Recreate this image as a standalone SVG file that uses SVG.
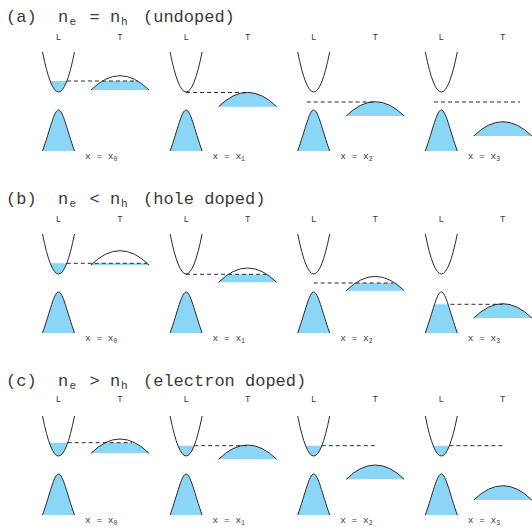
<svg xmlns="http://www.w3.org/2000/svg" width="532" height="527" viewBox="0 0 532 527">
<style>
.bg{fill:#ffffff}
.ln{fill:none;stroke:#2a2a2a;stroke-width:1}
.bl{fill:#8bd6f6;stroke:none}
.dh{fill:none;stroke:#2a2a2a;stroke-width:1;stroke-dasharray:4 3}
.tt{font-family:"Liberation Mono","Courier New",monospace;font-size:17px;fill:#3a3a3a}
.sb{font-size:11px}
.lb{font-family:"Liberation Mono","Courier New",monospace;font-size:9px;fill:#3a3a3a;text-anchor:middle}
.xl{font-family:"Liberation Mono","Courier New",monospace;font-size:9.5px;fill:#3a3a3a}
.xs{font-size:6.5px}
</style>
<defs>
<path id="vb" d="M-16,151 C-8.5,130 -4.5,110 0,110 C4.5,110 8.5,130 16,151"/>
<clipPath id="cA0"><rect x="80" y="81" width="80" height="20"/></clipPath>
<clipPath id="cB0"><rect x="80" y="81.3" width="80" height="20"/></clipPath>
<clipPath id="cB1"><rect x="210" y="92.3" width="80" height="20"/></clipPath>
<clipPath id="cB2"><rect x="340" y="101" width="80" height="20"/></clipPath>
<clipPath id="cB3"><rect x="-20" y="122.3" width="40" height="40"/></clipPath>
<clipPath id="cC0"><rect x="80" y="78.7" width="80" height="20"/></clipPath>
<clipPath id="cC1"><rect x="210" y="81.7" width="80" height="20"/></clipPath>
</defs>
<rect class="bg" x="0" y="0" width="532" height="527"/>

<!-- Panel (a) -->
<g id="panel-a">
<text class="tt" y="22"><tspan x="6">(a)</tspan><tspan x="58">n</tspan><tspan class="sb" x="69.5" dy="3">e</tspan><tspan x="89.5" dy="-3">=</tspan><tspan x="110">n</tspan><tspan class="sb" x="121" dy="3">h</tspan><tspan x="143" dy="-3">(undoped)</tspan></text>
<g id="a-labels">
<text class="lb" x="58.5" y="40">L</text><text class="lb" x="120" y="40">T</text>
<text class="lb" x="186.1" y="40">L</text><text class="lb" x="247.6" y="40">T</text>
<text class="lb" x="313.7" y="40">L</text><text class="lb" x="375.2" y="40">T</text>
<text class="lb" x="441.3" y="40">L</text><text class="lb" x="502.8" y="40">T</text>
</g>
<g id="a-col0">
<path class="bl" d="M50.1,81 Q58.5,103 66.9,81 Z"/>
<path class="ln" d="M42.5,52 Q58.5,132 74.5,52"/>
<use href="#vb" x="58.5" class="bl"/><use href="#vb" x="58.5" class="ln"/>
<path class="bl" clip-path="url(#cA0)" d="M91,90 Q120,61.4 149,90 Z"/>
<path class="ln" d="M91,90 Q120,61.4 149,90"/>
<path class="dh" d="M66.9,81 H137.7"/>
<text class="xl" y="159"><tspan x="85">x = x</tspan><tspan class="xs" dy="2">0</tspan></text>
</g>
<g id="a-col1">
<path class="ln" d="M170.1,52 Q186.1,132 202.1,52"/>
<use href="#vb" x="186.1" class="bl"/><use href="#vb" x="186.1" class="ln"/>
<path class="bl" d="M218.6,106.7 Q247.6,78.1 276.6,106.7 Z"/>
<path class="ln" d="M218.6,106.7 Q247.6,78.1 276.6,106.7"/>
<path class="dh" d="M186.1,92.5 H247.6"/>
<text class="xl" y="159"><tspan x="212.6">x = x</tspan><tspan class="xs" dy="2">1</tspan></text>
</g>
<g id="a-col2">
<path class="ln" d="M297.7,52 Q313.7,132 329.7,52"/>
<use href="#vb" x="313.7" class="bl"/><use href="#vb" x="313.7" class="ln"/>
<path class="bl" d="M346.2,116 Q375.2,87.4 404.2,116 Z"/>
<path class="ln" d="M346.2,116 Q375.2,87.4 404.2,116"/>
<path class="dh" d="M306.7,102 H373"/>
<text class="xl" y="159"><tspan x="340.2">x = x</tspan><tspan class="xs" dy="2">2</tspan></text>
</g>
<g id="a-col3">
<path class="ln" d="M425.3,52 Q441.3,132 457.3,52"/>
<use href="#vb" x="441.3" class="bl"/><use href="#vb" x="441.3" class="ln"/>
<path class="bl" d="M473.8,136 Q502.8,107.4 531.8,136 Z"/>
<path class="ln" d="M473.8,136 Q502.8,107.4 531.8,136"/>
<path class="dh" d="M434,102 H520"/>
<text class="xl" y="159"><tspan x="467.8">x = x</tspan><tspan class="xs" dy="2">3</tspan></text>
</g>
</g>

<!-- Panel (b) -->
<g id="panel-b" transform="translate(0,182)">
<text class="tt" y="22"><tspan x="6">(b)</tspan><tspan x="58">n</tspan><tspan class="sb" x="69.5" dy="3">e</tspan><tspan x="89.5" dy="-3">&lt;</tspan><tspan x="110">n</tspan><tspan class="sb" x="121" dy="3">h</tspan><tspan x="143" dy="-3">(hole doped)</tspan></text>
<g id="b-labels">
<text class="lb" x="58.5" y="40">L</text><text class="lb" x="120" y="40">T</text>
<text class="lb" x="186.1" y="40">L</text><text class="lb" x="247.6" y="40">T</text>
<text class="lb" x="313.7" y="40">L</text><text class="lb" x="375.2" y="40">T</text>
<text class="lb" x="441.3" y="40">L</text><text class="lb" x="502.8" y="40">T</text>
</g>
<g id="b-col0">
<path class="bl" d="M50.2,81.3 Q58.5,102.7 66.8,81.3 Z"/>
<path class="ln" d="M42.5,52 Q58.5,132 74.5,52"/>
<use href="#vb" x="58.5" class="bl"/><use href="#vb" x="58.5" class="ln"/>
<path class="bl" clip-path="url(#cB0)" d="M91,83 Q120,54.4 149,83 Z"/>
<path class="ln" d="M91,83 Q120,54.4 149,83"/>
<path class="dh" d="M66.8,81.3 H147"/>
<text class="xl" y="159"><tspan x="85">x = x</tspan><tspan class="xs" dy="2">0</tspan></text>
</g>
<g id="b-col1">
<path class="ln" d="M170.1,52 Q186.1,132 202.1,52"/>
<use href="#vb" x="186.1" class="bl"/><use href="#vb" x="186.1" class="ln"/>
<path class="bl" clip-path="url(#cB1)" d="M218.6,100.3 Q247.6,71.7 276.6,100.3 Z"/>
<path class="ln" d="M218.6,100.3 Q247.6,71.7 276.6,100.3"/>
<path class="dh" d="M186.1,92.3 H266"/>
<text class="xl" y="159"><tspan x="212.6">x = x</tspan><tspan class="xs" dy="2">1</tspan></text>
</g>
<g id="b-col2">
<path class="ln" d="M297.7,52 Q313.7,132 329.7,52"/>
<use href="#vb" x="313.7" class="bl"/><use href="#vb" x="313.7" class="ln"/>
<path class="bl" clip-path="url(#cB2)" d="M346.2,108.7 Q375.2,80.1 404.2,108.7 Z"/>
<path class="ln" d="M346.2,108.7 Q375.2,80.1 404.2,108.7"/>
<path class="dh" d="M313.7,101 H393"/>
<text class="xl" y="159"><tspan x="340.2">x = x</tspan><tspan class="xs" dy="2">2</tspan></text>
</g>
<g id="b-col3">
<path class="ln" d="M425.3,52 Q441.3,132 457.3,52"/>
<g transform="translate(441.3,0)"><use href="#vb" class="bl" clip-path="url(#cB3)"/><use href="#vb" class="ln"/></g>
<path class="bl" d="M473.8,136 Q502.8,107.4 531.8,136 Z"/>
<path class="ln" d="M473.8,136 Q502.8,107.4 531.8,136"/>
<path class="dh" d="M450.5,122.3 H502.8"/>
<text class="xl" y="159"><tspan x="467.8">x = x</tspan><tspan class="xs" dy="2">3</tspan></text>
</g>
</g>

<!-- Panel (c) -->
<g id="panel-c" transform="translate(0,364)">
<text class="tt" y="22"><tspan x="6">(c)</tspan><tspan x="58">n</tspan><tspan class="sb" x="69.5" dy="3">e</tspan><tspan x="89.5" dy="-3">&gt;</tspan><tspan x="110">n</tspan><tspan class="sb" x="121" dy="3">h</tspan><tspan x="143" dy="-3">(electron doped)</tspan></text>
<g id="c-labels">
<text class="lb" x="58.5" y="38">L</text><text class="lb" x="120" y="38">T</text>
<text class="lb" x="186.1" y="38">L</text><text class="lb" x="247.6" y="38">T</text>
<text class="lb" x="313.7" y="38">L</text><text class="lb" x="375.2" y="38">T</text>
<text class="lb" x="441.3" y="38">L</text><text class="lb" x="502.8" y="38">T</text>
</g>
<g id="c-col0">
<path class="bl" d="M49.3,78.7 Q58.5,105.3 67.7,78.7 Z"/>
<path class="ln" d="M42.5,52 Q58.5,132 74.5,52"/>
<use href="#vb" x="58.5" class="bl"/><use href="#vb" x="58.5" class="ln"/>
<path class="bl" clip-path="url(#cC0)" d="M91,89.3 Q120,60.7 149,89.3 Z"/>
<path class="ln" d="M91,89.3 Q120,60.7 149,89.3"/>
<path class="dh" d="M67.7,78.7 H132"/>
<text class="xl" y="159"><tspan x="85">x = x</tspan><tspan class="xs" dy="2">0</tspan></text>
</g>
<g id="c-col1">
<path class="bl" d="M178,81.7 Q186.1,102.3 194.2,81.7 Z"/>
<path class="ln" d="M170.1,52 Q186.1,132 202.1,52"/>
<use href="#vb" x="186.1" class="bl"/><use href="#vb" x="186.1" class="ln"/>
<path class="bl" clip-path="url(#cC1)" d="M218.6,95.3 Q247.6,66.7 276.6,95.3 Z"/>
<path class="ln" d="M218.6,95.3 Q247.6,66.7 276.6,95.3"/>
<path class="dh" d="M194.2,81.7 H247.6"/>
<text class="xl" y="159"><tspan x="212.6">x = x</tspan><tspan class="xs" dy="2">1</tspan></text>
</g>
<g id="c-col2">
<path class="bl" d="M305.6,81.7 Q313.7,102.3 321.8,81.7 Z"/>
<path class="ln" d="M297.7,52 Q313.7,132 329.7,52"/>
<use href="#vb" x="313.7" class="bl"/><use href="#vb" x="313.7" class="ln"/>
<path class="bl" d="M346.2,115.3 Q375.2,86.7 404.2,115.3 Z"/>
<path class="ln" d="M346.2,115.3 Q375.2,86.7 404.2,115.3"/>
<path class="dh" d="M321.8,81.7 H376.7"/>
<text class="xl" y="159"><tspan x="340.2">x = x</tspan><tspan class="xs" dy="2">2</tspan></text>
</g>
<g id="c-col3">
<path class="bl" d="M433.2,81.7 Q441.3,102.3 449.4,81.7 Z"/>
<path class="ln" d="M425.3,52 Q441.3,132 457.3,52"/>
<use href="#vb" x="441.3" class="bl"/><use href="#vb" x="441.3" class="ln"/>
<path class="bl" d="M473.8,136 Q502.8,107.4 531.8,136 Z"/>
<path class="ln" d="M473.8,136 Q502.8,107.4 531.8,136"/>
<path class="dh" d="M449.4,81.7 H505"/>
<text class="xl" y="159"><tspan x="467.8">x = x</tspan><tspan class="xs" dy="2">3</tspan></text>
</g>
</g>
</svg>
